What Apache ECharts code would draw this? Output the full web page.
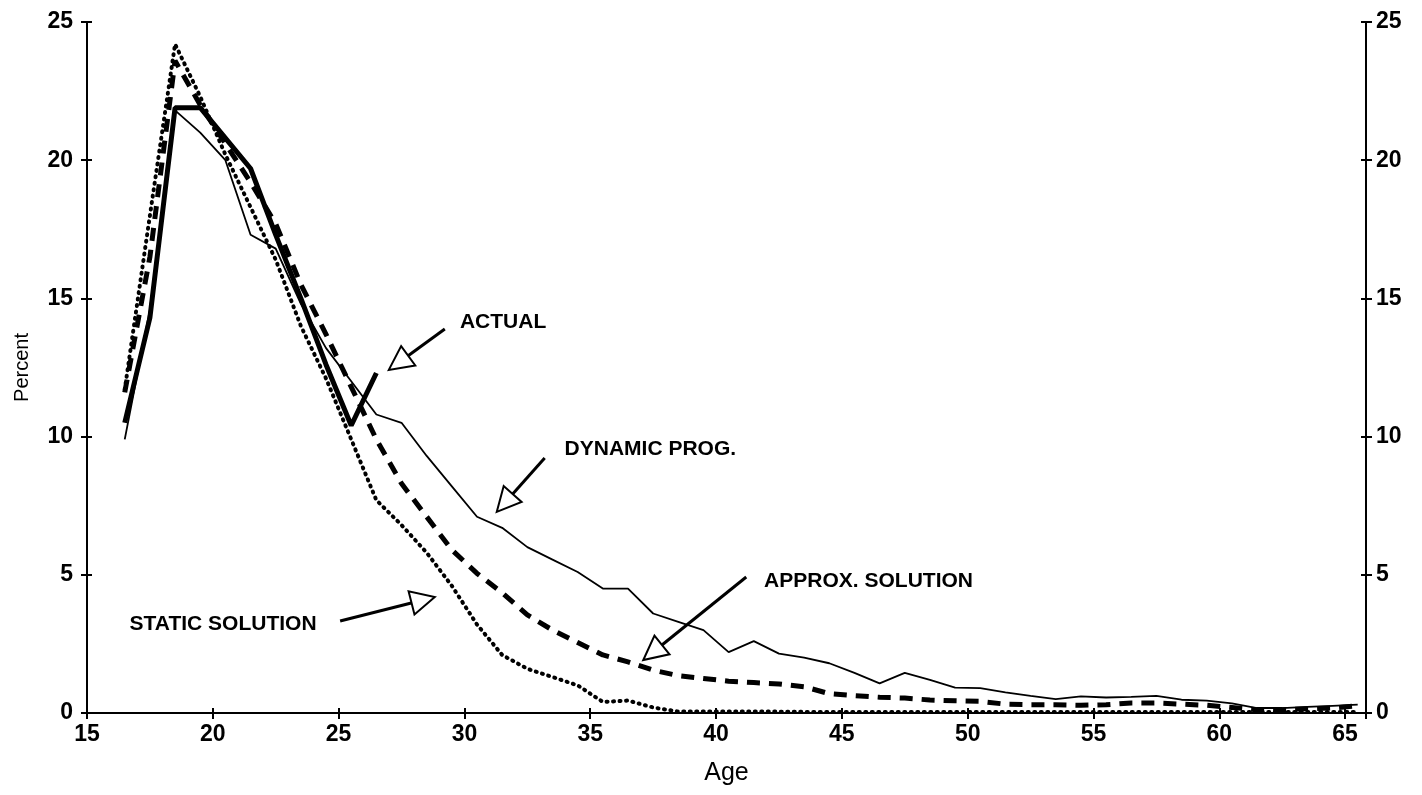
<!DOCTYPE html>
<html>
<head>
<meta charset="utf-8">
<script src="https://cdn.jsdelivr.net/npm/echarts@6/dist/echarts.min.js"></script>
<style>
html,body{margin:0;padding:0;background:#fff;}
#chart{width:1422px;height:795px;}
</style>
</head>
<body>
<div id="chart"></div>
<script>
// Plotted ages (points sit midway between integer ages in the reference)
const ages = [16.5,17.5,18.5,19.5,20.5,21.5,22.5,23.5,24.5,25.5,
  26.5,27.5,28.5,29.5,30.5,31.5,32.5,33.5,34.5,35.5,
  36.5,37.5,38.5,39.5,40.5,41.5,42.5,43.5,44.5,45.5,
  46.5,47.5,48.5,49.5,50.5,51.5,52.5,53.5,54.5,55.5,
  56.5,57.5,58.5,59.5,60.5,61.5,62.5,63.5,64.5,65.5];

const actual = [10.5,14.3,21.9,21.9,20.8,19.7,17.3,15.0,12.6,10.4,12.3];

const dynamicProg = [9.9,14.6,21.8,21.0,20.0,17.3,16.8,14.8,13.2,12.0,
  10.8,10.5,9.3,8.2,7.1,6.7,6.0,5.55,5.1,4.5,
  4.5,3.6,3.3,3.0,2.2,2.6,2.15,2.0,1.8,1.45,
  1.07,1.45,1.2,0.92,0.9,0.75,0.62,0.5,0.6,0.56,
  0.58,0.62,0.48,0.45,0.35,0.18,0.18,0.22,0.26,0.3];

const approxSolution = [11.6,16.5,23.6,22.0,20.6,19.2,17.7,15.5,13.7,11.8,
  9.9,8.3,7.1,5.9,5.05,4.35,3.55,3.0,2.55,2.1,
  1.85,1.55,1.35,1.25,1.15,1.1,1.05,0.95,0.7,0.63,
  0.57,0.54,0.47,0.44,0.42,0.32,0.3,0.3,0.28,0.3,
  0.36,0.36,0.32,0.28,0.2,0.12,0.12,0.15,0.18,0.26];

const staticSolution = [11.7,18.0,24.2,22.3,20.2,18.3,16.4,14.0,12.1,9.9,
  7.7,6.8,5.8,4.6,3.2,2.1,1.6,1.3,1.0,0.4,
  0.45,0.2,0.05,0.05,0.05,0.05,0.05,0.04,0.04,0.04,
  0.04,0.04,0.04,0.04,0.04,0.04,0.04,0.04,0.04,0.04,
  0.04,0.04,0.04,0.04,0.04,0.04,0.04,0.04,0.04,0.04];

const xTicks = [15,20,25,30,35,40,45,50,55,60,65];
const yTicks = [0,5,10,15,20,25];

// Annotations: [text, text anchor (age, percent), arrow start, arrow head centre]
const annotations = [
  ['ACTUAL',           [29.82,14.15], [29.22,13.89], [27.38,12.67]],
  ['DYNAMIC PROG.',    [33.98, 9.55], [33.19, 9.23], [31.60, 7.60]],
  ['APPROX. SOLUTION', [41.91, 4.78], [41.20, 4.92], [37.48, 2.19]],
  ['STATIC SOLUTION',  [16.69, 3.22], [25.06, 3.33], [28.36, 4.09]]
];

const FONT = 'Liberation Sans, Arial, Helvetica, sans-serif';
const pair = arr => arr.map((v,i)=>[ages[i], v]);

const chart = echarts.init(document.getElementById('chart'), null, {renderer:'canvas'});

const xLabelFmt = v => (xTicks.indexOf(Math.round(v*100)/100) >= 0 ? String(v) : '');
const yLabelFmt = v => (yTicks.indexOf(v) >= 0 ? String(v) : '');

const axisLineStyle = {color:'#000', width:2};
const tickLabel = {fontFamily:FONT, fontSize:23, fontWeight:'bold', color:'#000'};

const option = {
  backgroundColor:'#fff',
  animation:false,
  grid:{left:87, right:56, top:22, bottom:82, containLabel:false},
  xAxis:[
    {type:'value', min:15, max:65.83, interval:5,
     name:'Age', nameLocation:'middle', nameGap:48,
     nameTextStyle:{fontFamily:FONT, fontSize:25, color:'#000'},
     axisLine:{lineStyle:axisLineStyle},
     axisTick:{show:true, inside:false, length:6, lineStyle:{color:'#000', width:2}},
     axisLabel:Object.assign({formatter:xLabelFmt, margin:10}, tickLabel),
     splitLine:{show:false}},
    {type:'value', min:15, max:65.83, interval:5, position:'bottom',
     axisLine:{show:false},
     axisTick:{show:true, inside:true, length:5, lineStyle:{color:'#000', width:2}},
     axisLabel:{show:false}, splitLine:{show:false}}
  ],
  yAxis:[
    {type:'value', min:0, max:25, interval:5, position:'left',
     name:'Percent', nameLocation:'middle', nameRotate:90, nameGap:55,
     nameTextStyle:{fontFamily:FONT, fontSize:20, color:'#000'},
     axisLine:{show:true, lineStyle:axisLineStyle},
     axisTick:{show:true, inside:false, length:6, lineStyle:{color:'#000', width:2}},
     axisLabel:Object.assign({formatter:yLabelFmt, margin:14}, tickLabel),
     splitLine:{show:false}},
    {type:'value', min:0, max:25, interval:5, position:'left',
     axisLine:{show:false},
     axisTick:{show:true, inside:true, length:5, lineStyle:{color:'#000', width:2}},
     axisLabel:{show:false}, splitLine:{show:false}},
    {type:'value', min:0, max:25, interval:5, position:'right',
     axisLine:{show:true, lineStyle:axisLineStyle},
     axisTick:{show:true, inside:false, length:6, lineStyle:{color:'#000', width:2}},
     axisLabel:Object.assign({formatter:yLabelFmt, margin:10}, tickLabel),
     splitLine:{show:false}},
    {type:'value', min:0, max:25, interval:5, position:'right',
     axisLine:{show:false},
     axisTick:{show:true, inside:true, length:5, lineStyle:{color:'#000', width:2}},
     axisLabel:{show:false}, splitLine:{show:false}}
  ],
  series:[
    {name:'Static solution', type:'line', data:pair(staticSolution), symbol:'none',
     lineStyle:{color:'#000', width:4, type:[1,5.5], cap:'round'}, z:2},
    {name:'Approx. solution', type:'line', data:pair(approxSolution), symbol:'none',
     lineStyle:{color:'#000', width:5, type:[13,9]}, z:3},
    {name:'Dynamic prog.', type:'line', data:pair(dynamicProg), symbol:'none',
     lineStyle:{color:'#000', width:1.8}, z:4},
    {name:'Actual', type:'line', data:pair(actual), symbol:'none',
     lineStyle:{color:'#000', width:5}, z:5},
    {name:'Annotations', type:'line', data:[], symbol:'none', z:6,
     markLine:{silent:true, symbol:['none','emptyTriangle'], symbolSize:24,
       lineStyle:{color:'#000', width:3, type:'solid'},
       itemStyle:{color:'#000', borderWidth:3},
       label:{show:false},
       emphasis:{disabled:true},
       data:annotations.map(a=>[{coord:a[2]},{coord:a[3]}])},
     markPoint:{silent:true, symbol:'circle', symbolSize:0,
       label:{show:true, position:'right', distance:0, color:'#000',
              fontFamily:FONT, fontSize:21, fontWeight:'bold'},
       data:annotations.map(a=>({coord:a[1], value:a[0], label:{formatter:a[0]}}))}
    }
  ]
};
chart.setOption(option);
</script>
</body>
</html>
